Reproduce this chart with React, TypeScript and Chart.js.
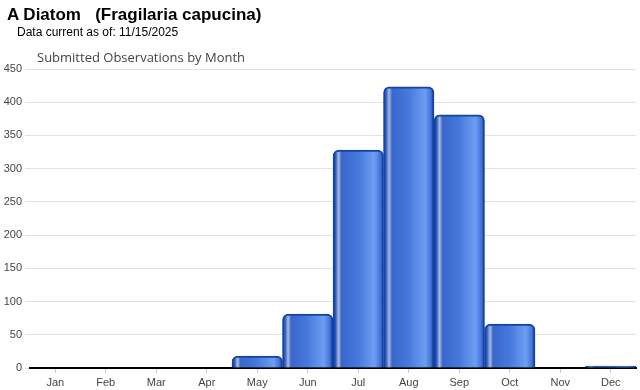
import React, { useEffect, useRef } from "react";
import { Chart, registerables } from "chart.js";

Chart.register(...registerables);

const months = ["Jan", "Feb", "Mar", "Apr", "May", "Jun", "Jul", "Aug", "Sep", "Oct", "Nov", "Dec"];
const observations = [0, 0, 0, 0, 18, 81, 328, 423, 381, 66, 0, 3];
const yTicks = [0, 50, 100, 150, 200, 250, 300, 350, 400, 450];

export default function App() {
  const ref = useRef<HTMLCanvasElement | null>(null);

  useEffect(() => {
    if (!ref.current) return;
    const chart = new Chart(ref.current, {
      type: "bar",
      data: {
        labels: months,
        datasets: [
          {
            data: observations,
            backgroundColor: (ctx: any) => {
              const c = ctx.chart;
              const xs = c.scales && c.scales.x;
              if (!xs || !c.chartArea || ctx.dataIndex === undefined) return "#3b6fd6";
              const cx = xs.getPixelForValue(ctx.dataIndex);
              const w = xs.width / months.length;
              const g = c.ctx.createLinearGradient(cx - w / 2, 0, cx + w / 2, 0);
              g.addColorStop(0, "#1746a8");
              g.addColorStop(0.05, "#2c5bbf");
              g.addColorStop(0.11, "#a9bbde");
              g.addColorStop(0.17, "#3a66cc");
              g.addColorStop(0.5, "#4679dc");
              g.addColorStop(0.82, "#6e9ef2");
              g.addColorStop(0.93, "#4676d8");
              g.addColorStop(1, "#1746a8");
              return g;
            },
            borderColor: "#1543a5",
            borderWidth: 2,
            borderRadius: 6,
            borderSkipped: "bottom",
            barPercentage: 1,
            categoryPercentage: 1,
          },
        ],
      },
      options: {
        animation: false,
        responsive: false,
        maintainAspectRatio: false,
        layout: { padding: { top: 69, right: 4, left: 0, bottom: 0 } },
        plugins: { legend: { display: false }, tooltip: { enabled: false }, title: { display: false } },
        scales: {
          x: {
            grid: { drawOnChartArea: false, offset: false, color: "#cccccc", tickLength: 5 },
            border: { color: "#000000", width: 2 },
            ticks: { color: "#444", font: { family: "Liberation Sans, Arial", size: 11 }, padding: 3, maxRotation: 0 },
            afterFit: (s: any) => { s.height = 22; },
          },
          y: {
            min: 0,
            max: 450,
            afterBuildTicks: (s: any) => { s.ticks = yTicks.map((v) => ({ value: v })); },
            grid: { color: "#e3e3e3", tickLength: 5 },
            border: { display: false },
            ticks: { color: "#444", font: { family: "Liberation Sans, Arial", size: 11 }, padding: 3 },
            afterFit: (s: any) => { s.width = 30; },
          },
        },
      },
    });
    return () => chart.destroy();
  }, []);

  return (
    <div style={{ position: "absolute", left: 0, top: 0, width: 640, height: 390, background: "#fff", overflow: "hidden" }}>
      <canvas ref={ref} width={640} height={390} style={{ position: "absolute", left: 0, top: 0 }} />
      <div style={{ position: "absolute", left: 7, top: 5, font: "bold 17px 'Liberation Sans', Arial", color: "#000", whiteSpace: "pre" }}>
        {"A Diatom   (Fragilaria capucina)"}
      </div>
      <div style={{ position: "absolute", left: 17, top: 25, font: "12px 'Liberation Sans', Arial", color: "#000" }}>
        Data current as of: 11/15/2025
      </div>
      <div style={{ position: "absolute", left: 37, top: 48, font: "13px 'Open Sans', 'DejaVu Sans'", color: "#444" }}>
        Submitted Observations by Month
      </div>
    </div>
  );
}
